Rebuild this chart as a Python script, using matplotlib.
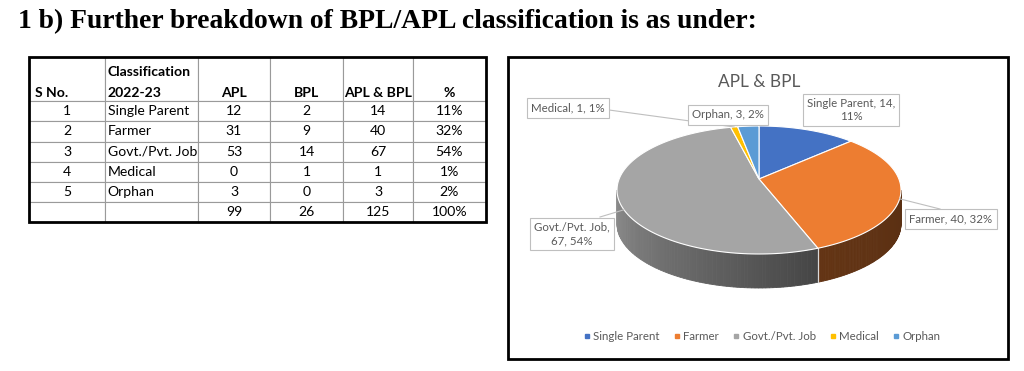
import numpy as np
import matplotlib.pyplot as plt
from matplotlib.patches import Polygon, Rectangle
from matplotlib.lines import Line2D
from matplotlib.colors import to_rgb

plt.rcParams['font.family'] = ['Lato', 'DejaVu Sans']

# table data
s_no = ['1', '2', '3', '4', '5', '']
classification = ['Single Parent', 'Farmer', 'Govt./Pvt. Job', 'Medical', 'Orphan', '']
apl = [12, 31, 53, 0, 3, 99]
bpl = [2, 9, 14, 1, 0, 26]
apl_bpl = [14, 40, 67, 1, 3, 125]
percent = ['11%', '32%', '54%', '1%', '2%', '100%']
header = ['S No.', 'Classification\n2022-23', 'APL', 'BPL', 'APL & BPL', '%']

# pie data
pie_labels = classification[:5]
pie_values = apl_bpl[:5]
pie_colors = ['#4472C4', '#ED7D31', '#A5A5A5', '#FFC000', '#5B9BD5']

fig = plt.figure(figsize=(10.24, 3.71), dpi=100)
ax = fig.add_axes([0, 0, 1, 1])
ax.set_xlim(0, 1024)
ax.set_ylim(371, 0)
ax.axis('off')

ax.text(18, 22, '1 b) Further breakdown of BPL/APL classification is as under:',
        fontfamily='Liberation Serif', fontweight='bold', fontsize=19.9, va='center')

# ---- table ----
col_w = np.array([76, 93, 72, 73, 70, 73])
tx, ty, tw, th_ = 29, 57, 457, 165
rows = [[s_no[i], classification[i], str(apl[i]), str(bpl[i]), str(apl_bpl[i]), percent[i]]
        for i in range(len(s_no))]
tbl = ax.table(cellText=rows, colLabels=[''] * len(header),
               colWidths=list(col_w / col_w.sum()), cellLoc='center',
               bbox=[tx / 1024, 1 - (ty + th_) / 371, tw / 1024, th_ / 371])
tbl.auto_set_font_size(False)
tbl.set_fontsize(10.1)
for (r, c), cell in tbl.get_celld().items():
    cell.set_edgecolor('#9a9a9a')
    cell.set_linewidth(0.8)
    cell.set_height(44 if r == 0 else 20)
    if c == 1:
        cell._loc = 'left'
        cell.PAD = 0.03
        cell.get_text().set_horizontalalignment('left')

# header text, bottom aligned like the sheet
lefts = tx + np.concatenate([[0], np.cumsum(col_w)])
for c, h in enumerate(header):
    parts = h.split('\n')
    if c <= 1:
        x, ha = lefts[c] + (6 if c == 0 else 3), 'left'
    else:
        x, ha = (lefts[c] + lefts[c + 1]) / 2, 'center'
    ax.text(x, 93, parts[-1], ha=ha, va='center', fontsize=10.1, fontweight='bold')
    if len(parts) > 1:
        ax.text(x, 72, parts[0], ha=ha, va='center', fontsize=10.1, fontweight='bold')
ax.add_patch(Rectangle((tx, ty), tw, th_, fill=False, ec='black', lw=2, zorder=10))

# ---- 3D pie chart ----
ax.add_patch(Rectangle((508, 57), 500, 302, fill=False, ec='black', lw=2))
ax.text(759, 82, 'APL & BPL', ha='center', va='center', fontsize=12.4, color='#595959')

cx, cy, rx, ry, depth = 759, 190, 142, 64, 34
vertex = (cx, cy - 11)  # perspective: apex sits a little above the ellipse centre
total = sum(pie_values)
fracs = np.array(pie_values) / total
bounds = 90 - 360 * np.concatenate([[0], np.cumsum(fracs)])
side_shade = [(0.4, 0.4), (0.42, 0.38), (0.86, 0.42), (0.4, 0.4), (0.4, 0.4)]


def pt(theta, dy=0.0):
    t = np.radians(theta)
    return cx + rx * np.cos(t), cy - ry * np.sin(t) + dy


# side walls (front half only)
for i in range(len(pie_values)):
    a0, a1 = bounds[i], bounds[i + 1]
    lo, hi = max(a1, -180), min(a0, 0)
    if lo >= hi:
        continue
    base = np.array(to_rgb(pie_colors[i]))
    th = np.linspace(lo, hi, 80)
    for j in range(len(th) - 1):
        p1, p2 = pt(th[j]), pt(th[j + 1])
        t = j / (len(th) - 2)
        f = side_shade[i][0] + (side_shade[i][1] - side_shade[i][0]) * t
        col = np.clip(base * f, 0, 1)
        ax.add_patch(Polygon([p1, p2, pt(th[j + 1], depth), pt(th[j], depth)],
                             closed=True, fc=col, ec=col, lw=0.6, zorder=2))
    for edge in (lo, hi):
        if -180 < edge < 0:
            x0, y0 = pt(edge)
            ax.plot([x0, x0], [y0, y0 + depth], color='#d9d9d9', lw=0.8, zorder=2.5)

# top face
for i in range(len(pie_values)):
    th = np.linspace(bounds[i], bounds[i + 1], 120)
    arc = [pt(a) for a in th]
    ax.add_patch(Polygon([vertex] + arc, closed=True, fc=pie_colors[i],
                         ec='white', lw=0.8, zorder=3))

# data labels
label_pos = [(851, 110), (951, 219), (572, 234), (568, 108), (728, 115)]
leader_end = [None, (940, 209), (600, 217), (609, 110), None]
for i, name in enumerate(pie_labels):
    pct = round(pie_values[i] / total * 100)
    if i == 0:
        s = f'{name}, {pie_values[i]},\n{pct}%'
    elif i == 2:
        s = f'{name},\n{pie_values[i]}, {pct}%'
    else:
        s = f'{name}, {pie_values[i]}, {pct}%'
    if leader_end[i] is not None:
        mid = (bounds[i] + bounds[i + 1]) / 2
        x0, y0 = pt(mid)
        ax.plot([x0, leader_end[i][0]], [y0, leader_end[i][1]], color='#bfbfbf', lw=0.8, zorder=4)
    ax.text(label_pos[i][0], label_pos[i][1], s, ha='center', va='center', fontsize=8.3,
            color='#595959', linespacing=1.3, zorder=6,
            bbox=dict(boxstyle='square,pad=0.35', fc='white', ec='#bfbfbf', lw=0.8))

handles = [Line2D([], [], marker='s', ls='', color=c, markersize=3.5) for c in pie_colors]
ax.legend(handles, pie_labels, loc='center', bbox_to_anchor=(762 / 1024, 1 - 337 / 371),
          ncol=5, frameon=False, fontsize=8.3, handlelength=0.6, handletextpad=0.25,
          columnspacing=1.2, labelcolor='#595959')

fig.savefig('out.png', dpi=100)
